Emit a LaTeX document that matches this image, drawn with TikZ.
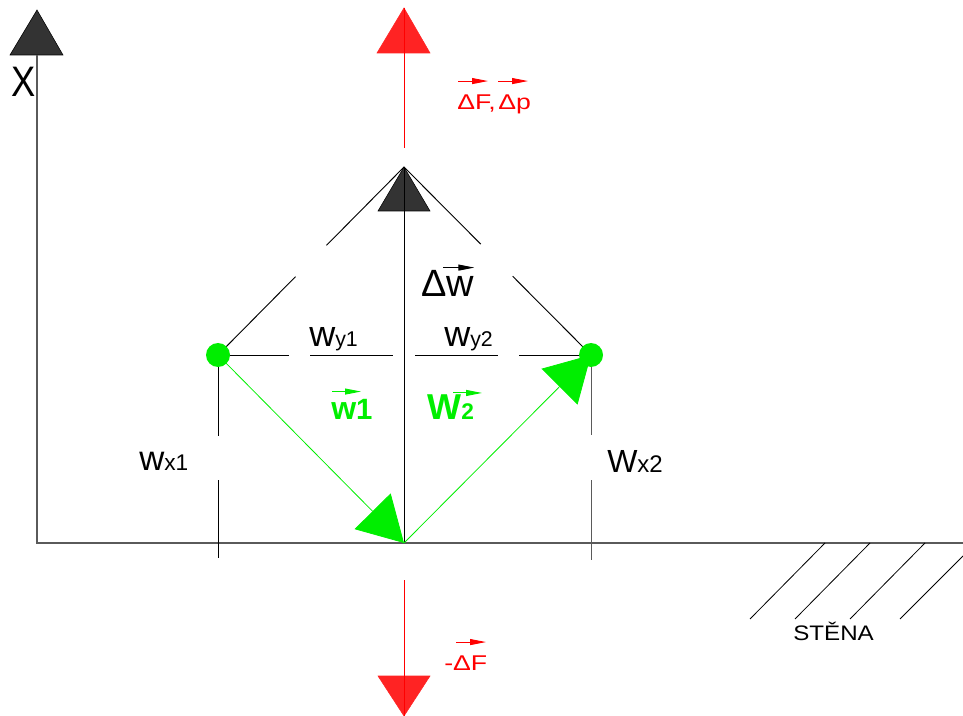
\documentclass[tikz,border=0pt]{standalone}
\usepackage{fontspec}
\setmainfont{Liberation Sans}
\usetikzlibrary{arrows.meta,calc}
\definecolor{vgreen}{RGB}{0,238,0}
\definecolor{vred}{RGB}{255,0,0}
\definecolor{tred}{RGB}{255,35,35}
\definecolor{tdark}{RGB}{51,51,51}
\definecolor{axgray}{RGB}{90,90,90}
\newcommand{\fsz}[1]{\fontsize{#1}{#1}\selectfont}
\begin{document}
\begin{tikzpicture}[x=0.75pt,y=-0.75pt,
  axisln/.style={line width=0.9pt,draw=axgray},
  blackln/.style={line width=0.75pt,draw=black},
  redln/.style={line width=0.75pt,draw=vred},
  greenln/.style={line width=0.6pt,draw=vgreen},
  dimln/.style={line width=0.7pt,draw=black},
  hatchln/.style={line width=0.6pt,draw=black},
  darktri/.style={fill=tdark,draw=black,line width=0.4pt},
  redtri/.style={fill=tred,draw=tred,line width=0.4pt},
  bigvec/.style={greenln,-{Triangle[length=33.5pt,width=38pt,fill=vgreen]}},
  txtvec/.style={line width=0.7pt,-{Triangle[length=12pt,width=4.5pt]}},
  lbl/.style={inner sep=0pt,anchor=base west},
  dot/.style={circle,fill=vgreen,inner sep=0pt,minimum size=18pt}
]
\useasboundingbox (0,0) rectangle (963,716);

% key points
\coordinate (O) at (404,543);
\coordinate (Xtop) at (37,10);
\coordinate (Xbase) at (37,55);
\coordinate (Xorig) at (37,543);
\coordinate (Xend) at (963,543);
\coordinate (Wtop) at (404,167);
\coordinate (Ftop) at (404,8);
\coordinate (Fend) at (404,148);
\coordinate (Fbot) at (404,716);
\coordinate (Fbstart) at (404,580);
\coordinate (pL) at (218,355);
\coordinate (pR) at (591,355);

% triangles (arrow heads)
\draw[darktri] (Xtop) -- (10,55) -- (63,55) -- cycle;
\draw[darktri] (Wtop) -- (378,211) -- (430,211) -- cycle;
\draw[redtri] (Ftop) -- (377,53) -- (430,53) -- cycle;
\draw[redtri] (Fbot) -- (378,676) -- (430,676) -- cycle;

% axes
\draw[axisln] (Xbase) -- (Xorig) -- (Xend);
\draw[blackln] (Wtop) -- (O);
\draw[redln] (Ftop) -- (Fend);
\draw[redln] (Fbstart) -- (Fbot);

% wall hatching
\draw[hatchln] (825,543) -- (750,619);
\draw[hatchln] (870,543) -- (795,619);
\draw[hatchln] (925,543) -- (850,619);
\draw[hatchln] (963,556) -- (900,619);

% construction lines
\draw[dimln] (pL) -- ($(pL)!0.417!(Wtop)$);
\draw[dimln] ($(pL)!0.583!(Wtop)$) -- (Wtop);
\draw[dimln] (pR) -- ($(pR)!0.419!(Wtop)$);
\draw[dimln] ($(pR)!0.59!(Wtop)$) -- (Wtop);
\draw[dimln] (pL) -- (289,355);
\draw[dimln] (310,355) -- (393,355);
\draw[dimln] (415,355) -- (498,355);
\draw[dimln] (519,355) -- (pR);
\draw[dimln] (pL) -- (218,436);
\draw[dimln] (218,480) -- (218,558);
\draw[dimln,draw=axgray] (pR) -- (591,435);
\draw[dimln,draw=axgray] (591,480) -- (591,560);

% green vectors
\draw[bigvec] (pL) -- (O);
\draw[bigvec] (O) -- (pR);
\node[dot] (dL) at (pL) {};
\node[dot] (dR) at (pR) {};

% labels
\node[lbl,font=\fsz{32pt}] (lX) at (11,97) {\scalebox{0.85}[1]{X}};

\node[lbl,font=\fsz{28.5pt}] (ldw) at (421,297) {Δw};
\draw[txtvec] ($(ldw.north east)+(-31,-3)$) -- +(31,0);

\node[lbl,font=\fsz{27pt}] (lwy1) at (309,347) {w{\fsz{16pt}y1}};
\node[lbl,font=\fsz{27pt}] (lwy2) at (444,347) {w{\fsz{16pt}y2}};
\node[lbl,font=\fsz{26pt}] (lwx1) at (139,470) {w{\fsz{17pt}x1}};
\node[lbl,font=\fsz{24pt}] (lwx2) at (607,472) {W{\fsz{18pt}x2}};

\node[lbl,font=\fsz{24pt}\bfseries,text=vgreen] (lw1) at (331,419) {w{\fsz{22pt}1}};
\draw[txtvec,draw=vgreen] ($(lw1.north west)+(1,-7)$) -- +(29,0);
\node[lbl,font=\fsz{27pt}\bfseries,text=vgreen] (lW2) at (427,419) {W{\fsz{17pt}2}};
\draw[txtvec,draw=vgreen] ($(lW2.north west)+(26,-1)$) -- +(29,0);

\node[lbl,font=\fsz{16pt},text=vred] (ldF) at (457,110) {\scalebox{1.25}[1]{ΔF,}};
\node[lbl,font=\fsz{16pt},text=vred] (ldp) at (498,110) {\scalebox{1.25}[1]{Δp}};
\draw[txtvec,draw=vred] ($(ldF.north west)+(1,-14)$) -- +(30,0);
\draw[txtvec,draw=vred] ($(ldp.north west)+(0,-14)$) -- +(30,0);

\node[lbl,font=\fsz{16pt},text=vred] (lmF) at (444,670) {\scalebox{1.25}[1]{-ΔF}};
\draw[txtvec,draw=vred] ($(lmF.north west)+(12,-13)$) -- +(30,0);

\node[lbl,font=\fsz{15.75pt}] (lst) at (793,640) {\scalebox{1.15}[1]{STĚNA}};
\end{tikzpicture}
\end{document}
